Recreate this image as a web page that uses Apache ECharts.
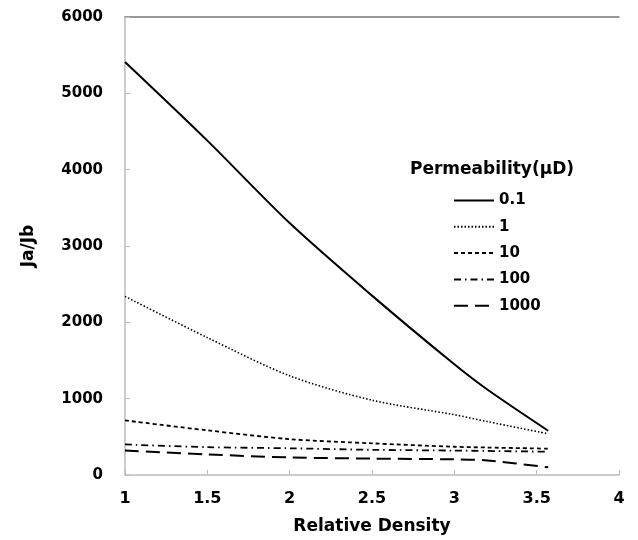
<!DOCTYPE html>
<html><head><meta charset="utf-8">
<script src="https://cdn.jsdelivr.net/npm/echarts@6/dist/echarts.min.js"></script>
<style>html,body{margin:0;padding:0;background:#fff}#c{width:638px;height:540px}</style>
</head><body><div id="c"></div>
<script>
const density = [1, 1.5, 2, 2.5, 3, 3.2, 3.57];
const k01   = [5410, 4380, 3300, 2350, 1450, 1120, 580];
const k1    = [2340, 1800, 1300, 980, 790, 700, 540];
const k10   = [715, 585, 470, 415, 370, 360, 345];
const k100  = [400, 365, 350, 330, 320, 315, 305];
const k1000 = [320, 270, 230, 215, 205, 190, 100];
const names = ['0.1', '1', '10', '100', '1000'];
const values = [k01, k1, k10, k100, k1000];
const dashes = ['solid', [1.5, 2], [4, 3], [7, 4, 1.5, 4], [14, 7]];
const widths = [2, 1.6, 1.8, 1.8, 2];
const font = 'DejaVu Sans';
const chart = echarts.init(document.getElementById('c'));
chart.setOption({
  animation: false,
  backgroundColor: '#fff',
  grid: { left: 125, right: 19, top: 17, bottom: 55 },
  title: { text: 'Permeability(\u03bcD)', left: 405, top: 156,
    textStyle: { fontFamily: font, fontWeight: 'bold', fontSize: 17, color: '#000' } },
  legend: {
    orient: 'vertical', left: 448, top: 188, itemWidth: 40, itemHeight: 14, itemGap: 11.3,
    itemStyle: { opacity: 0 },
    textStyle: { fontFamily: font, fontWeight: 'bold', fontSize: 15, color: '#000' },
    data: names
  },
  xAxis: [{
    type: 'value', min: 1, max: 4, interval: 0.5,
    name: 'Relative Density', nameLocation: 'middle', nameGap: 43,
    nameTextStyle: { fontFamily: font, fontWeight: 'bold', fontSize: 17, color: '#000' },
    axisLine: { lineStyle: { color: '#bbb', width: 1.5 } },
    axisTick: { inside: true, length: 5, lineStyle: { color: '#bbb' } },
    splitLine: { show: false },
    axisLabel: { fontFamily: font, fontWeight: 'bold', fontSize: 16, color: '#000', margin: 16 }
  }, {
    type: 'value', position: 'top', min: 1, max: 4,
    axisLine: { show: true, lineStyle: { color: '#777', width: 1.5 } },
    axisTick: { show: false }, axisLabel: { show: false }, splitLine: { show: false }
  }],
  yAxis: {
    type: 'value', min: 0, max: 6000, interval: 1000,
    name: 'Ja/Jb', nameLocation: 'middle', nameGap: 88, nameRotate: 90,
    nameTextStyle: { fontFamily: font, fontWeight: 'bold', fontSize: 17, color: '#000' },
    axisLine: { show: true, lineStyle: { color: '#bbb', width: 1.5 } },
    axisTick: { show: true, inside: true, length: 5, lineStyle: { color: '#bbb' } },
    splitLine: { show: false },
    axisLabel: { fontFamily: font, fontWeight: 'bold', fontSize: 15, color: '#000', margin: 22,
      formatter: v => String(v) }
  },
  series: names.map((n, i) => ({
    name: n, type: 'line', symbol: 'none', smooth: 0.3,
    data: density.map((x, j) => [x, values[i][j]]),
    lineStyle: { color: '#000', width: widths[i], type: dashes[i] },
    itemStyle: { color: '#000' }
  }))
});
</script></body></html>
